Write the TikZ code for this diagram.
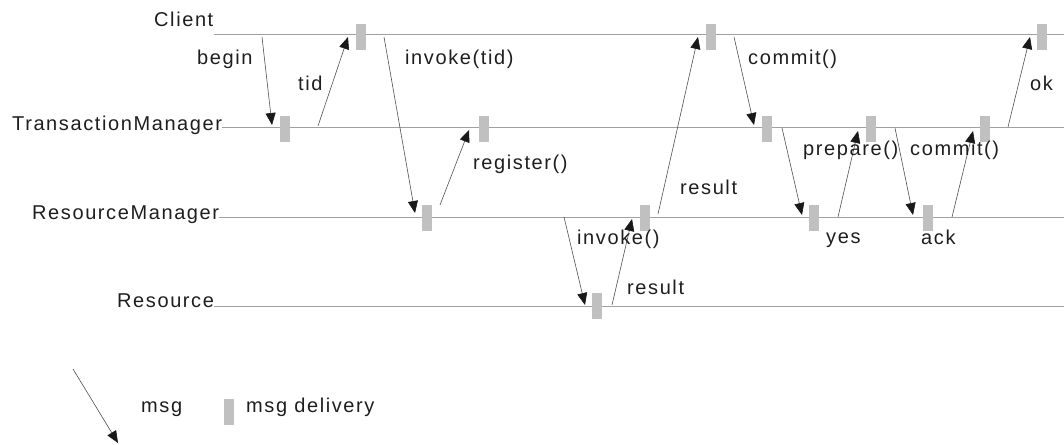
\documentclass[tikz,border=0pt]{standalone}
\usepackage{fontspec}
\setmainfont{Liberation Sans}[LetterSpace=8]
\usetikzlibrary{arrows.meta}
\definecolor{tlgray}{HTML}{A0A0A0}
\definecolor{bargray}{HTML}{C0C0C0}
\definecolor{msggray}{HTML}{505050}
\definecolor{txt}{HTML}{1E1E1E}
\tikzset{
  lbl/.style={inner sep=0pt, anchor=base west, text=txt, font=\fontsize{20}{22}\selectfont},
  timeline/.style={draw=tlgray, line width=1pt},
  bar/.style={fill=bargray, draw=none, minimum width=10pt, minimum height=26pt, inner sep=0pt},
  msgarrow/.style={draw=msggray, line width=0.6pt, -{Triangle[length=12pt,width=10pt,color=black!90]}}
}
\begin{document}
\begin{tikzpicture}[x=1pt,y=-1pt]
\useasboundingbox (0,0) rectangle (1064,444);
% lifeline labels
\node[lbl] (client) at (154,27) {Client};
\node[lbl] (tm) at (12,130) {TransactionManager};
\node[lbl] (rm) at (32,219) {ResourceManager};
\node[lbl] (res) at (117,307) {Resource};
% lifeline ends
\coordinate (cE) at (1064,35);
\coordinate (tE) at (1064,127);
\coordinate (rE) at (1064,217);
\coordinate (sE) at (1064,306);
\draw[timeline] (client.east |- cE) -- (cE);
\draw[timeline] (tm.east |- tE) -- (tE);
\draw[timeline] (rm.east |- rE) -- (rE);
\draw[timeline] (res.east |- sE) -- (sE);
% delivery bars
\node[bar] (cb1) at (361,37.5) {};
\node[bar] (cb2) at (711,37.5) {};
\node[bar] (cb3) at (1042,37.5) {};
\node[bar] (tb1) at (285,129) {};
\node[bar] (tb2) at (484,129) {};
\node[bar] (tb3) at (767,129) {};
\node[bar] (tb4) at (871,129) {};
\node[bar] (tb5) at (985,129) {};
\node[bar] (rb1) at (427,218) {};
\node[bar] (rb2) at (645,218) {};
\node[bar] (rb3) at (814,218) {};
\node[bar] (rb4) at (928,218) {};
\node[bar] (sb1) at (597,305.5) {};
% message endpoints
\coordinate (a1s) at (262,37);  \coordinate (a1e) at (272,125);
\coordinate (a2s) at (318,126); \coordinate (a2e) at (348,37);
\coordinate (a3s) at (384,37);  \coordinate (a3e) at (415,213);
\coordinate (a4s) at (440,205); \coordinate (a4e) at (469,130);
\coordinate (a5s) at (658,214); \coordinate (a5e) at (698,37);
\coordinate (a6s) at (564,217); \coordinate (a6e) at (585,305);
\coordinate (a7s) at (612,305); \coordinate (a7e) at (632,219);
\coordinate (a8s) at (734,37);  \coordinate (a8e) at (754,125);
\coordinate (a9s) at (782,128); \coordinate (a9e) at (802,215);
\coordinate (a10s) at (838,217); \coordinate (a10e) at (858,131);
\coordinate (a11s) at (895,128); \coordinate (a11e) at (913,215);
\coordinate (a12s) at (952,217); \coordinate (a12e) at (973,131);
\coordinate (a13s) at (1008,127); \coordinate (a13e) at (1030,37);
\coordinate (lgs) at (73,369); \coordinate (lge) at (118,443);
\draw[msgarrow] (a1s) -- (a1e);
\draw[msgarrow] (a2s) -- (a2e);
\draw[msgarrow] (a3s) -- (a3e);
\draw[msgarrow] (a4s) -- (a4e);
\draw[msgarrow] (a5s) -- (a5e);
\draw[msgarrow] (a6s) -- (a6e);
\draw[msgarrow] (a7s) -- (a7e);
\draw[msgarrow] (a8s) -- (a8e);
\draw[msgarrow] (a9s) -- (a9e);
\draw[msgarrow] (a10s) -- (a10e);
\draw[msgarrow] (a11s) -- (a11e);
\draw[msgarrow] (a12s) -- (a12e);
\draw[msgarrow] (a13s) -- (a13e);
\draw[msgarrow] (lgs) -- (lge);
% message labels
\node[lbl] (l1) at (197,64) {begin};
\node[lbl] (l2) at (298,90) {tid};
\node[lbl] (l3) at (405,64) {invoke(tid)};
\node[lbl] (l4) at (473,169) {register()};
\node[lbl] (l5) at (680,194) {result};
\node[lbl] (l6) at (577,244) {invoke()};
\node[lbl] (l7) at (627,294) {result};
\node[lbl] (l8) at (748,64) {commit()};
\node[lbl] (l9) at (803,155) {prepare()};
\node[lbl] (l10) at (826,243) {yes};
\node[lbl] (l11) at (910,155) {commit()};
\node[lbl] (l12) at (921,244) {ack};
\node[lbl] (l13) at (1030,90) {ok};
% legend
\node[lbl] (lgmsg) at (141,412) {msg};
\node[bar] (lgbar) at (229,412) {};
\node[lbl] (lgdel) at (246,412) {msg delivery};
\end{tikzpicture}
\end{document}
